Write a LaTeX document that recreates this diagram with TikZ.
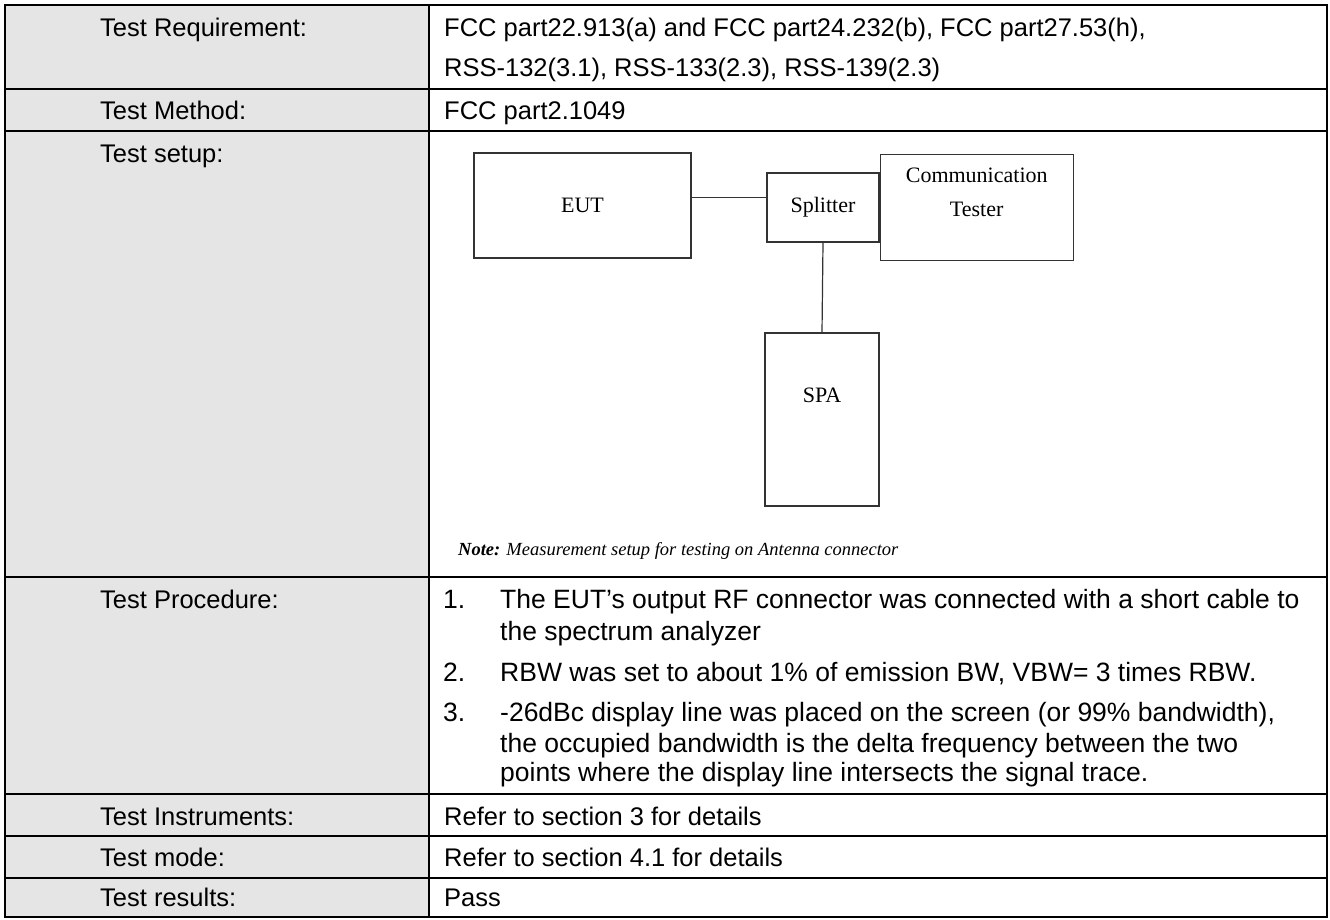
\documentclass[tikz,border=0pt]{standalone}
\usepackage{fontspec}
\setmainfont{Liberation Sans}
\newfontfamily\serif{Liberation Serif}
\usetikzlibrary{positioning}

\begin{document}
\begin{tikzpicture}[x=1pt, y=-1pt,
        cell/.style={anchor=base west, inner sep=0pt, font=\fontsize{25.5}{30}\selectfont},
        step item/.style={anchor=base west, inner sep=0pt, font=\fontsize{26.5}{30}\selectfont},
        grid/.style={line width=2pt},
        box/.style={draw=black!80, line width=1.2pt, inner sep=0pt, font=\serif\fontsize{22}{26}\selectfont},
        boxtext/.style={inner sep=0pt, align=center, font=\serif\fontsize{22}{34}\selectfont},
        link/.style={draw=black!80, line width=1.2pt}
    ]
        \useasboundingbox (0,0) rectangle (1330,919);

        % Label column and grid
        \fill[black!10] (5,5) rectangle (429,917);
        \draw[grid] (5,5) rectangle (1327,917);
        \draw[grid] (429,5) -- (429,917);
        \foreach \y in {89,131,577,794,836,878}
            \draw[grid] (5,\y) -- (1327,\y);

        % Row labels
        \node[cell] (lreq) at (100,36) {Test Requirement:};
        \node[cell] (lmeth) at (100,119) {Test Method:};
        \node[cell] (lsetup) at (100,162) {Test setup:};
        \node[cell] (lproc) at (100,608) {Test Procedure:};
        \node[cell] (linst) at (100,825) {Test Instruments:};
        \node[cell] (lmode) at (100,866) {Test mode:};
        \node[cell] (lres) at (100,906) {Test results:};

        % Right column entries
        \node[cell] (req1) at (444,36) {FCC part22.913(a) and FCC part24.232(b), FCC part27.53(h),};
        \node[cell] (req2) at (444,76) {RSS-132(3.1), RSS-133(2.3), RSS-139(2.3)};
        \node[cell] (meth) at (444,119) {FCC part2.1049};
        \node[cell] (inst) at (444,825) {Refer to section 3 for details};
        \node[cell] (mode) at (444,866) {Refer to section 4.1 for details};
        \node[cell] (res) at (444,906) {Pass};

        % Procedure steps
        \node[step item] (n1) at (443,608) {1.};
        \node[step item] (s1a) at (500,608) {The EUT’s output RF connector was connected with a short cable to};
        \node[step item] (s1b) at (500,640) {the spectrum analyzer};
        \node[step item] (n2) at (443,681) {2.};
        \node[step item] (s2) at (500,681) {RBW was set to about 1\% of emission BW, VBW= 3 times RBW.};
        \node[step item] (n3) at (443,721) {3.};
        \node[step item] (s3a) at (500,721) {-26dBc display line was placed on the screen (or 99\% bandwidth),};
        \node[step item] (s3b) at (500,752) {the occupied bandwidth is the delta frequency between the two};
        \node[step item] (s3c) at (500,781) {points where the display line intersects the signal trace.};

        % Test setup diagram
        \node[box, minimum width=217pt, minimum height=105pt] (eut) at (582.5,205.5) {EUT};
        \node[box, minimum width=112pt, minimum height=69pt] (split) at (823,207.5) {Splitter};
        \node[box, minimum width=193pt, minimum height=106pt, anchor=west] (tester) at (split.east) {};
        \node[boxtext, below=14pt of tester.north] (testertxt) {Communication\\Tester};
        \node[box, minimum width=114pt, minimum height=173pt] (spa) at (822,419.5) {};
        \node[boxtext, below=55pt of spa.north] (spatxt) {SPA};

        \draw[link] ([yshift=8pt]eut.east) -- ([yshift=8pt]eut.east -| split.west);
        \draw[link] (split.south) -- (spa.north);

        \node[anchor=base west, inner sep=0pt, font=\serif\itshape\fontsize{18.5}{22}\selectfont] (note) at (458,555)
            {\textbf{Note:} Measurement setup for testing on Antenna connector};
    \end{tikzpicture}
\end{document}
